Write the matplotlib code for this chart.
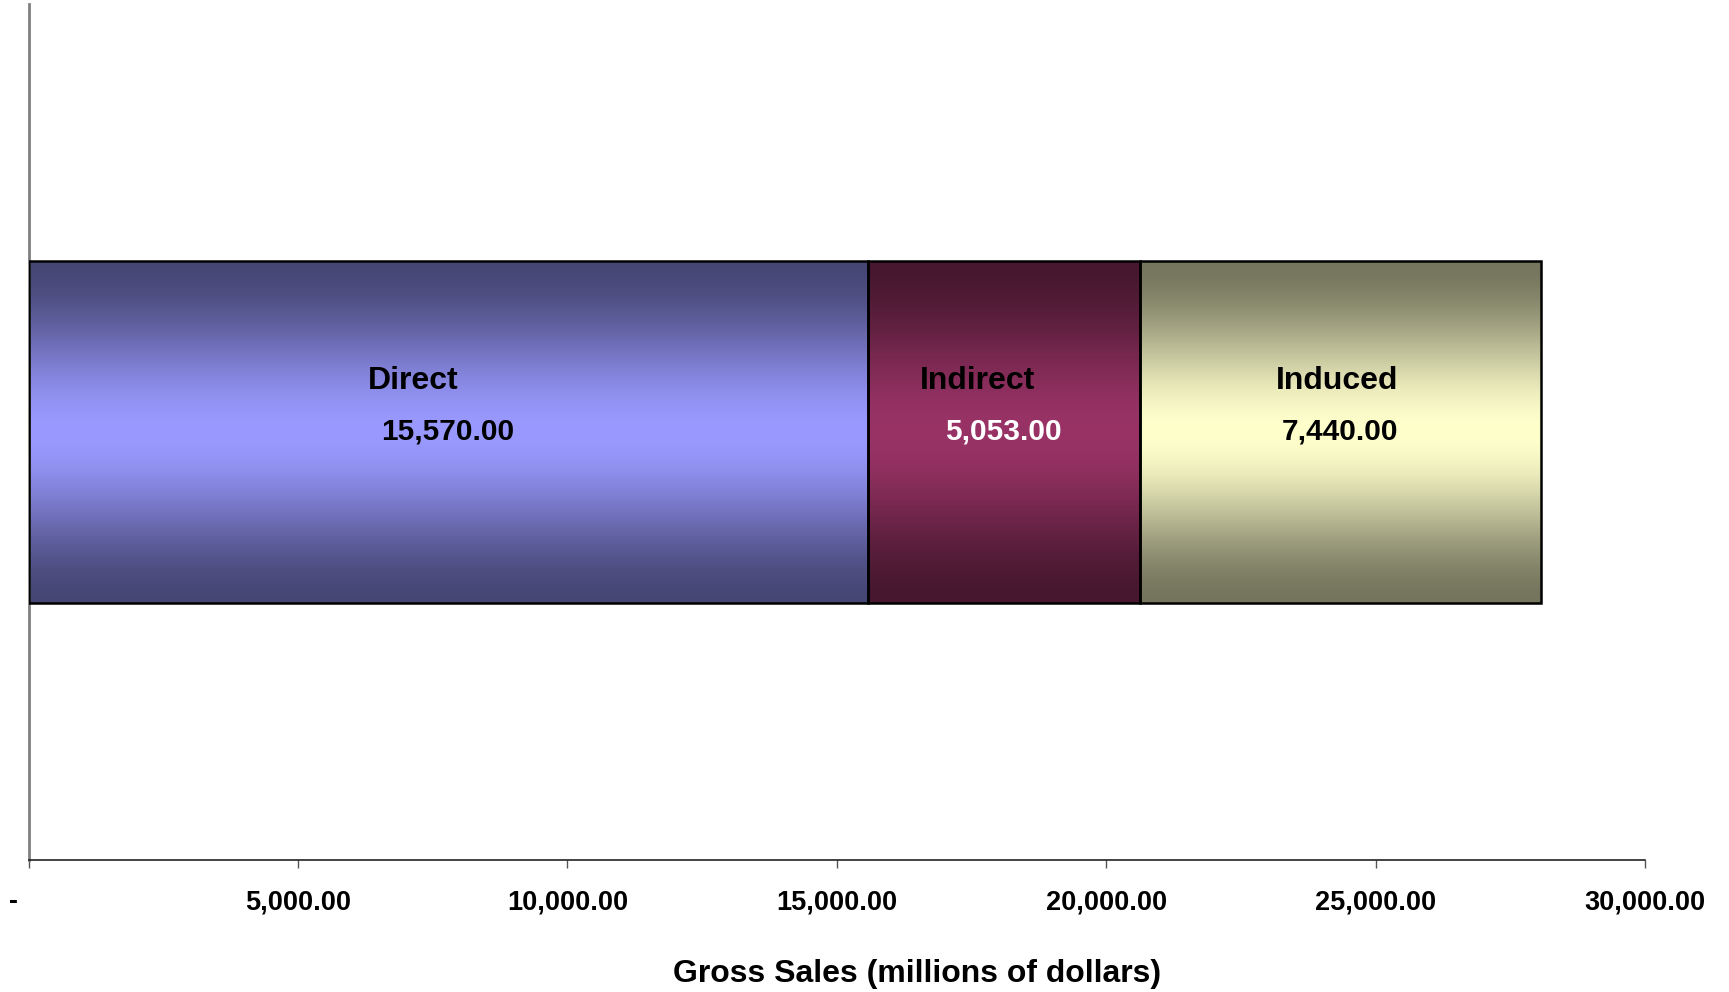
import numpy as np
import matplotlib.pyplot as plt
import matplotlib.transforms as mtransforms
from matplotlib.colors import to_rgb
from matplotlib.ticker import FuncFormatter

plt.rcParams['font.family'] = ['Liberation Sans', 'DejaVu Sans']
plt.rcParams['font.weight'] = 'bold'

# Gross sales by impact type (millions of dollars)
categories = ['Direct', 'Indirect', 'Induced']
sales = [15570.00, 5053.00, 7440.00]
bar_colors = ['#9999FF', '#993366', '#FFFFCC']
value_colors = ['black', 'white', 'black']
name_shift = [-35, -26, -3]   # pixel nudges for the series names
x_ticks = [0, 5000, 10000, 15000, 20000, 25000, 30000]


def shade(base, n=256, dark=0.46):
    # dark at the top and bottom edges, full colour through the middle
    rgb = np.array(to_rgb(base))
    t = np.abs(np.linspace(-1, 1, n))
    s = 3 * t**2 - 2 * t**3
    f = 1 - (1 - dark) * s
    return (f[:, None] * rgb[None, :])[:, None, :]


fig = plt.figure(figsize=(17.29, 9.92), dpi=100)
ax = fig.add_axes([0.0166, 0.1331, 0.9348, 0.8629])

left = 0
for name, val, col, vcol, dx in zip(categories, sales, bar_colors, value_colors, name_shift):
    bar = ax.barh(0, val, left=left, height=0.4, facecolor='none',
                  edgecolor='black', linewidth=1.8, zorder=3)[0]
    x0, y0 = bar.get_x(), bar.get_y()
    img = ax.imshow(shade(col), extent=(x0, x0 + bar.get_width(), y0, y0 + bar.get_height()),
                    aspect='auto', interpolation='bilinear', zorder=2)
    img.set_clip_path(bar)
    cx = x0 + bar.get_width() / 2
    ax.annotate(name, (cx, 0.060), xytext=(dx, 0), textcoords='offset pixels',
                ha='center', va='center', fontsize=23, color='black', zorder=4)
    ax.text(cx, 0, f'{val:,.2f}', ha='center', va='center', fontsize=21.5,
            color=vcol, zorder=4)
    left += val

ax.set_xlim(0, 30000)
ax.set_ylim(-0.5, 0.5)
ax.set_xticks(x_ticks)
ax.xaxis.set_major_formatter(FuncFormatter(lambda v, p: '-' if v == 0 else f'{v:,.2f}'))
ax.set_yticks([])
ax.tick_params(axis='x', direction='out', length=6, width=1, color='#555555',
               labelsize=19.5, pad=15)

# accounting-style zero sits left of its tick
zero_lbl = ax.get_xticklabels()[0]
zero_lbl.set_transform(zero_lbl.get_transform() +
                       mtransforms.ScaledTranslation(-15 / 100, 0, fig.dpi_scale_trans))

for side in ('top', 'right'):
    ax.spines[side].set_visible(False)
ax.spines['left'].set_color('#808080')
ax.spines['left'].set_linewidth(2)
ax.spines['bottom'].set_color('#222222')
ax.spines['bottom'].set_linewidth(1.2)

ax.set_xlabel('Gross Sales (millions of dollars)', fontsize=23, fontweight='bold')
ax.xaxis.set_label_coords(0.5495, -0.133)
ax.xaxis.label.set_va('center')

fig.savefig('out.png', dpi=100)
